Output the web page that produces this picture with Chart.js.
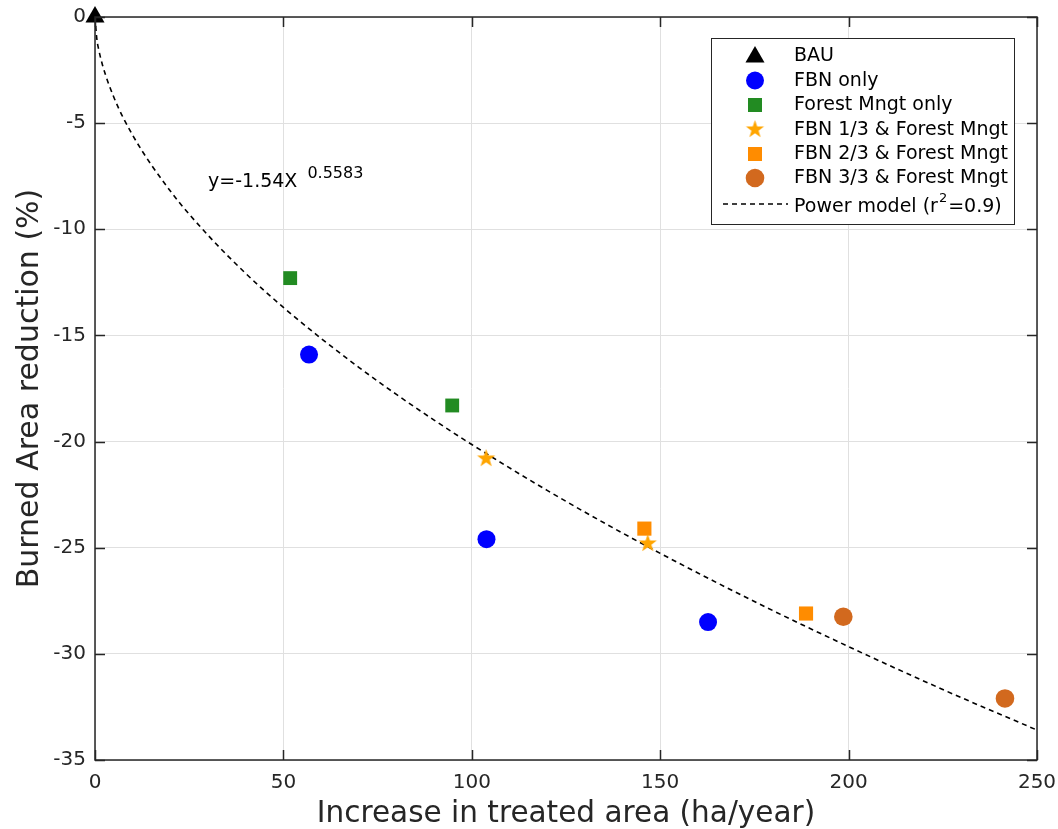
<!DOCTYPE html>
<html><head><meta charset="utf-8">
<script src="https://cdn.jsdelivr.net/npm/chart.js@4.4.1/dist/chart.umd.min.js"></script>
<style>html,body{margin:0;padding:0;background:#fff}canvas{display:block}</style>
</head><body>
<canvas id="c" width="1058" height="829"></canvas>
<script>
// ---- data ----
const xTicks = [0, 50, 100, 150, 200, 250];
const yTicks = [0, -5, -10, -15, -20, -25, -30, -35];
const bauX = [0], bauY = [0];
const fbnX = [56.8, 103.9, 162.7], fbnY = [-15.9, -24.6, -28.5];
const fmX = [51.8, 94.8], fmY = [-12.3, -18.3];
const f13X = [103.8, 146.7], f13Y = [-20.8, -24.8];
const f23X = [145.8, 188.7], f23Y = [-24.1, -28.1];
const f33X = [198.6, 241.5], f33Y = [-28.25, -32.1];
const modelX = [0, 0.5, 1, 2, 5, 10, 20, 30, 40, 50, 60, 70, 80, 90, 100, 120, 140, 160, 180, 200, 225, 250];
const modelY = [0, -1.05, -1.54, -2.27, -3.78, -5.57, -8.2, -10.28, -12.08, -13.68, -15.14, -16.5, -17.78, -18.99, -20.14, -22.3, -24.31, -26.19, -27.97, -29.66, -31.68, -33.59];
const seriesNames = ['BAU', 'FBN only', 'Forest Mngt only', 'FBN 1/3 & Forest Mngt', 'FBN 2/3 & Forest Mngt', 'FBN 3/3 & Forest Mngt', 'Power model (r', '2', '=0.9)'];
const eqMain = 'y=-1.54X', eqSup = '0.5583';
const eqX = 30, eqY = -8;
const xTitle = 'Increase in treated area (ha/year)';
const yTitle = 'Burned Area reduction (%)';

const FONT = 'DejaVu Sans';
const pts = (xs, ys) => xs.map((x, i) => ({x, y: ys[i]}));

function makeStar(color, R) {
  const s = Math.ceil(R * 2 + 2);
  const cv = document.createElement('canvas');
  cv.width = s; cv.height = s;
  const g = cv.getContext('2d');
  const r = R * 0.4;
  g.beginPath();
  for (let i = 0; i < 10; i++) {
    const a = -Math.PI / 2 + i * Math.PI / 5;
    const rr = i % 2 ? r : R;
    g.lineTo(s / 2 + rr * Math.cos(a), s / 2 + rr * Math.sin(a));
  }
  g.closePath();
  g.fillStyle = color; g.fill();
  return cv;
}
const starImg = makeStar('#FFA500', 9.5);

const C = {bau:'#000000', fbn:'#0000FF', fm:'#228B22', f13:'#FFA500', f23:'#FF8C00', f33:'#D2691E'};

const datasets = [
  {label: seriesNames[6], data: pts(modelX, modelY), showLine: true, borderColor: '#000', borderWidth: 1.6,
   borderDash: [5, 4], pointRadius: 0, cubicInterpolationMode: 'monotone', order: 10, clip: false},
  {label: seriesNames[0], data: pts(bauX, bauY), pointStyle: 'triangle', pointRadius: 11, backgroundColor: C.bau, borderColor: C.bau, borderWidth: 0, clip: false},
  {label: seriesNames[1], data: pts(fbnX, fbnY), pointStyle: 'circle', pointRadius: 9, backgroundColor: C.fbn, borderColor: C.fbn, borderWidth: 0, clip: false},
  {label: seriesNames[2], data: pts(fmX, fmY), pointStyle: 'rect', pointRadius: 9.8, backgroundColor: C.fm, borderColor: C.fm, borderWidth: 0, clip: false},
  {label: seriesNames[3], data: pts(f13X, f13Y), pointStyle: starImg, pointRadius: 10, backgroundColor: C.f13, borderWidth: 0, clip: false},
  {label: seriesNames[4], data: pts(f23X, f23Y), pointStyle: 'rect', pointRadius: 10, backgroundColor: C.f23, borderColor: C.f23, borderWidth: 0, clip: false},
  {label: seriesNames[5], data: pts(f33X, f33Y), pointStyle: 'circle', pointRadius: 9.3, backgroundColor: C.f33, borderColor: C.f33, borderWidth: 0, clip: false}
];

const frame = {
  id: 'frame',
  afterDraw(chart) {
    const {ctx, chartArea: a, scales: {x, y}} = chart;
    ctx.save();
    ctx.strokeStyle = '#262626'; ctx.lineWidth = 1.5;
    ctx.strokeRect(a.left, a.top, a.right - a.left, a.bottom - a.top);
    ctx.beginPath();
    xTicks.forEach(v => { const px = Math.round(x.getPixelForValue(v)) + 0.5;
      ctx.moveTo(px, a.bottom); ctx.lineTo(px, a.bottom - 10);
      ctx.moveTo(px, a.top); ctx.lineTo(px, a.top + 10); });
    yTicks.forEach(v => { const py = Math.round(y.getPixelForValue(v)) + 0.5;
      ctx.moveTo(a.left, py); ctx.lineTo(a.left + 10, py);
      ctx.moveTo(a.right, py); ctx.lineTo(a.right - 10, py); });
    ctx.stroke();
    // equation
    ctx.fillStyle = '#000'; ctx.textBaseline = 'alphabetic'; ctx.textAlign = 'left';
    const ex = x.getPixelForValue(eqX), ey = y.getPixelForValue(eqY);
    ctx.font = '19px "' + FONT + '"';
    ctx.fillText(eqMain, ex, ey);
    const w = ctx.measureText(eqMain).width;
    ctx.font = '16px "' + FONT + '"';
    ctx.fillText(eqSup, ex + w + 10, ey - 9);
    // legend
    const L = {x: 711.5, y: 38.5, w: 303, h: 186};
    ctx.fillStyle = '#fff'; ctx.fillRect(L.x, L.y, L.w, L.h);
    ctx.strokeStyle = '#262626'; ctx.lineWidth = 1; ctx.strokeRect(L.x, L.y, L.w, L.h);
    const rows = [56, 80.5, 105, 129.5, 154, 178];
    const mx = 755, tx = 794;
    const LF = '19px "' + FONT + '"';
    ctx.font = LF; ctx.textBaseline = 'middle'; ctx.fillStyle = '#000';
    rows.forEach((ry, i) => ctx.fillText(seriesNames[i], tx, ry + 0.5));
    // markers
    ctx.fillStyle = C.bau; ctx.beginPath();
    const tr = 11, tcy = 57;
    ctx.moveTo(mx, tcy - tr); ctx.lineTo(mx + tr * 0.866, tcy + tr / 2); ctx.lineTo(mx - tr * 0.866, tcy + tr / 2); ctx.closePath(); ctx.fill();
    ctx.fillStyle = C.fbn; ctx.beginPath(); ctx.arc(mx, rows[1], 9, 0, Math.PI * 2); ctx.fill();
    ctx.fillStyle = C.fm; ctx.fillRect(mx - 7, rows[2] - 7, 14, 14);
    ctx.drawImage(starImg, mx - starImg.width / 2, rows[3] - starImg.height / 2);
    ctx.fillStyle = C.f23; ctx.fillRect(mx - 7, rows[4] - 7, 14, 14);
    ctx.fillStyle = C.f33; ctx.beginPath(); ctx.arc(mx, rows[5], 9.3, 0, Math.PI * 2); ctx.fill();
    // power model row
    const pr = 207;
    ctx.strokeStyle = '#000'; ctx.lineWidth = 1.6; ctx.setLineDash([5, 4]);
    ctx.beginPath(); ctx.moveTo(723, 204); ctx.lineTo(788, 204); ctx.stroke(); ctx.setLineDash([]);
    ctx.fillStyle = '#000';
    ctx.fillText(seriesNames[6], tx, pr);
    let w1 = ctx.measureText(seriesNames[6]).width;
    ctx.font = '13px "' + FONT + '"';
    ctx.fillText(seriesNames[7], tx + w1 + 1, pr - 8);
    const w2 = ctx.measureText(seriesNames[7]).width;
    ctx.font = LF;
    ctx.fillText(seriesNames[8], tx + w1 + w2 + 2, pr);
    ctx.restore();
  }
};

new Chart(document.getElementById('c'), {
  type: 'scatter',
  data: {datasets},
  plugins: [frame],
  options: {
    responsive: false, animation: false, devicePixelRatio: 1,
    layout: {padding: {top: 17, right: 21, left: 0, bottom: 0}},
    plugins: {legend: {display: false}, tooltip: {enabled: false}},
    scales: {
      x: {
        type: 'linear', min: 0, max: 250,
        afterBuildTicks: s => { s.ticks = xTicks.map(v => ({value: v})); },
        afterFit: s => { s.height = 69; s.paddingLeft = 0; s.paddingRight = 0; },
        ticks: {font: {family: FONT, size: 20}, color: '#262626', padding: 11, maxRotation: 0, callback: v => String(v)},
        grid: {color: '#e0e0e0', lineWidth: 1, drawTicks: false},
        border: {display: false},
        title: {display: true, text: xTitle, color: '#262626', font: {family: FONT, size: 29.5, lineHeight: 1}, padding: {top: 0, bottom: 0}}
      },
      y: {
        type: 'linear', min: -35, max: 0,
        afterBuildTicks: s => { s.ticks = yTicks.map(v => ({value: v})); },
        afterFit: s => { s.width = 95; s.paddingTop = 0; s.paddingBottom = 0; },
        ticks: {font: {family: FONT, size: 20}, color: '#262626', padding: 9, callback: v => String(v)},
        grid: {color: '#e0e0e0', lineWidth: 1, drawTicks: false},
        border: {display: false},
        title: {display: true, text: yTitle, color: '#262626', font: {family: FONT, size: 30, lineHeight: 1}, padding: {top: 15, bottom: 0}}
      }
    }
  }
});
</script>
</body></html>
